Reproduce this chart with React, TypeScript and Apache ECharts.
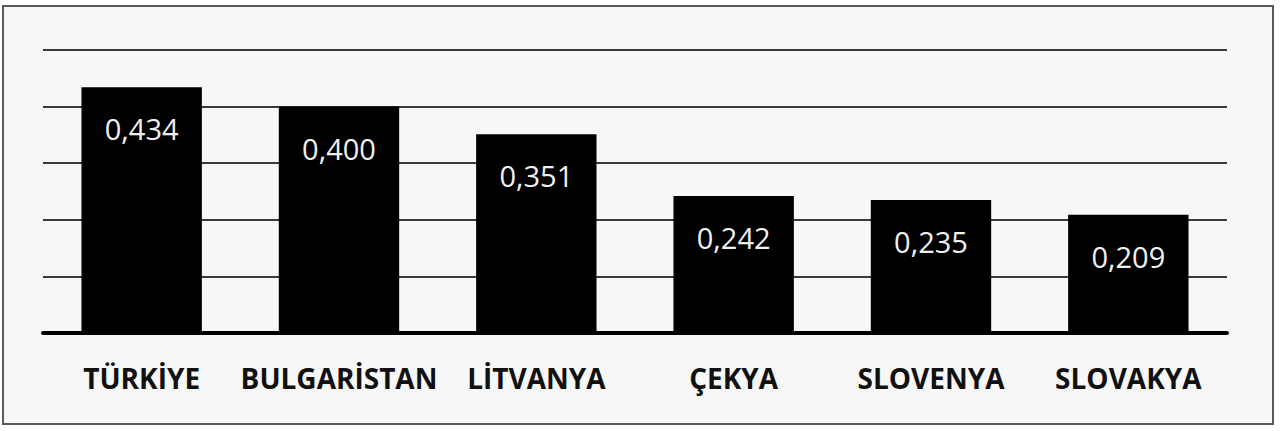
import React, { useEffect, useRef } from "react";
import * as echarts from "echarts";

const categories = ["TÜRKİYE", "BULGARİSTAN", "LİTVANYA", "ÇEKYA", "SLOVENYA", "SLOVAKYA"];
const values = [0.434, 0.4, 0.351, 0.242, 0.235, 0.209];

export default function App() {
  const ref = useRef<HTMLDivElement>(null);
  useEffect(() => {
    document.body.style.margin = "0";
    const chart = echarts.init(ref.current!, null, { renderer: "svg" });
    chart.setOption({
      animation: false,
      backgroundColor: "#ffffff",
      graphic: [
        {
          type: "rect",
          z: -10,
          shape: { x: 3, y: 6, width: 1270, height: 418 },
          style: { fill: "#f7f7f7", stroke: "#5a5a5a", lineWidth: 2 },
        },
      ],
      grid: { left: 43, right: 53, top: 50, bottom: 98 },
      xAxis: {
        type: "category",
        data: categories,
        axisLine: { show: true, lineStyle: { color: "#000", width: 4 } },
        axisTick: { show: false },
        axisLabel: {
          color: "#111",
          fontWeight: "bold",
          fontFamily: "Open Sans",
          fontSize: 28,
          margin: 31,
          interval: 0,
        },
      },
      yAxis: {
        type: "value",
        min: 0,
        max: 0.5,
        interval: 0.1,
        axisLabel: { show: false },
        axisLine: { show: false },
        axisTick: { show: false },
        splitLine: { lineStyle: { color: "#3a3a3a", width: 2 } },
      },
      series: [
        {
          type: "bar",
          data: values,
          barWidth: "61%",
          itemStyle: { color: "#000" },
          label: {
            show: true,
            position: "insideTop",
            distance: 27,
            color: "#f0f0f0",
            fontFamily: "Open Sans",
            fontSize: 29,
            formatter: (p: any) => p.value.toFixed(3).replace(".", ","),
          },
        },
      ],
    });
    return () => chart.dispose();
  }, []);
  return <div ref={ref} style={{ position: "absolute", left: 0, top: 0, width: 1280, height: 431 }} />;
}
